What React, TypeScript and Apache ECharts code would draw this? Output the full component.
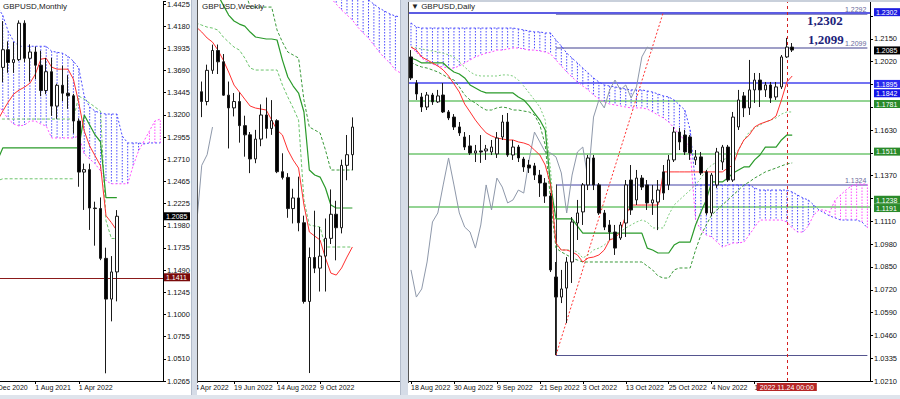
import React, { useEffect, useRef } from "react";
import * as echarts from "echarts";

const FONT = "'Liberation Sans Narrow','Arial Narrow','Liberation Sans',Arial,sans-serif";
const SERIF = "'Liberation Serif','Times New Roman',serif";

// ================= MONTHLY =================
const mDates = ["1 Dec 2020","1 Jan 2021","1 Feb 2021","1 Mar 2021","1 Apr 2021","1 May 2021","1 Jun 2021","1 Jul 2021","1 Aug 2021","1 Sep 2021","1 Oct 2021","1 Nov 2021","1 Dec 2021","1 Jan 2022","1 Feb 2022","1 Mar 2022","1 Apr 2022","1 May 2022","1 Jun 2022","1 Jul 2022","1 Aug 2022","1 Sep 2022","1 Oct 2022","1 Nov 2022","1 Dec 2022","1 Jan 2023","1 Feb 2023","1 Mar 2023","1 Apr 2023","1 May 2023","1 Jun 2023","1 Jul 2023"];
const mLabelIdx = [0, 8, 16];
const mOpen = [1.3325,1.3670,1.3730,1.3925,1.3784,1.3815,1.4218,1.3830,1.3900,1.3754,1.3474,1.3682,1.3302,1.3532,1.3445,1.3416,1.3137,1.2573,1.2600,1.2176,1.2170,1.1620,1.1170,1.1470];
const mHigh = [1.3704,1.3758,1.4241,1.4017,1.4009,1.4249,1.4250,1.3984,1.3958,1.3913,1.3834,1.3834,1.3549,1.3749,1.3644,1.3437,1.3167,1.2667,1.2666,1.2246,1.2293,1.1738,1.1645,1.2153];
const mLow = [1.3135,1.3520,1.3566,1.3670,1.3669,1.3800,1.3787,1.3572,1.3601,1.3412,1.3434,1.3194,1.3161,1.3358,1.3272,1.3000,1.2411,1.2155,1.1934,1.1760,1.1600,1.0350,1.0924,1.1145];
const mClose = [1.3670,1.3730,1.3925,1.3784,1.3815,1.4218,1.3830,1.3900,1.3754,1.3474,1.3682,1.3302,1.3532,1.3445,1.3416,1.3137,1.2573,1.2600,1.2176,1.2170,1.1620,1.1170,1.1470,1.2085];
const mTenkan = [1.3027,1.3137,1.3247,1.3346,1.3434,1.3479,1.3511,1.3555,1.3655,1.3820,1.3831,1.3732,1.3710,1.3710,1.3710,1.3600,1.3335,1.3027,1.2862,1.2752,1.2642,1.2092,1.2015,1.1927];
const mKijun = [1.2697,1.2697,1.2840,1.2840,1.2840,1.2840,1.2840,1.2840,1.2840,1.2840,1.2840,1.2840,1.2840,1.2840,1.2840,1.2840,1.2840,1.3203,1.3093,1.2983,1.2906,1.2290,1.2290,1.2290];
const mDashU = [1.3159,1.3159,1.3159,1.3159,1.3159,1.3159,1.3159,1.3159,1.3159,1.3159,1.3159,1.3159,1.3159,1.3159,1.3159,1.3159,1.3412,1.3379,1.3335,1.3291,1.3247,1.2037,1.1839,1.1839];
const mDashL = [1.2422,1.2477,1.2499,1.2499,1.2499,1.2499,1.2499,1.2499,1.2499,1.2499,1.2499,1.2499,1.2499,1.2499,1.2499,1.2499,null,null,null,null,null,null,null,null];
const mSpanA = [1.4403,1.4403,1.4304,1.4128,1.4018,1.3963,1.3963,1.3963,1.3963,1.3963,1.3963,1.3908,1.3897,1.3886,1.3853,1.3798,1.3721,1.3412,1.3291,1.3247,1.3225,1.3214,1.3214,1.3214,1.2972,1.2895,1.2895,1.2895,1.2884,1.2895,1.2895,1.2895];
const mSpanB = [1.3357,1.3324,1.3247,1.3159,1.3104,1.3082,1.3093,1.3137,1.3137,1.3104,1.3082,1.2950,1.2950,1.2950,1.2950,1.2950,1.2972,1.2774,1.2719,1.2664,1.2587,1.2477,1.2444,1.2444,1.2444,1.2444,1.2642,1.2807,1.2917,1.3027,1.3137,1.3159];
const mTicks = ["1.0265","1.0510","1.0755","1.1000","1.1245","1.1490","1.1735","1.1980","1.2225","1.2465","1.2710","1.2955","1.3200","1.3445","1.3690","1.3935","1.4180","1.4425"];
const mLevel = 1.1411;
const mLast = 1.2085;

// ================= WEEKLY =================
const wDates = ["24 Apr 2022","1 May 2022","8 May 2022","15 May 2022","22 May 2022","29 May 2022","5 Jun 2022","12 Jun 2022","19 Jun 2022","26 Jun 2022","3 Jul 2022","10 Jul 2022","17 Jul 2022","24 Jul 2022","31 Jul 2022","7 Aug 2022","14 Aug 2022","21 Aug 2022","28 Aug 2022","4 Sep 2022","11 Sep 2022","18 Sep 2022","25 Sep 2022","2 Oct 2022","9 Oct 2022","16 Oct 2022","23 Oct 2022","30 Oct 2022","6 Nov 2022","13 Nov 2022","20 Nov 2022","27 Nov 2022","4 Dec 2022","11 Dec 2022","18 Dec 2022","25 Dec 2022","1 Jan 2023","8 Jan 2023","15 Jan 2023","22 Jan 2023","29 Jan 2023","5 Feb 2023","12 Feb 2023"];
const wLabelIdx = [0, 8, 16, 24];
const wOpen = [1.2830,1.2570,1.2334,1.2265,1.2485,1.2625,1.2545,1.2310,1.2220,1.2265,1.2095,1.2030,1.1860,1.2000,1.2170,1.2075,1.2130,1.1770,1.1730,1.1510,1.1585,1.1410,1.0855,1.1165,1.1090,1.1175,1.1300,1.1470,1.1375,1.1815,1.1890];
const wHigh = [1.2860,1.2638,1.2406,1.2525,1.2666,1.2667,1.2600,1.2406,1.2325,1.2330,1.2165,1.2050,1.2065,1.2245,1.2293,1.2275,1.2140,1.1900,1.1760,1.1650,1.1735,1.1460,1.1235,1.1495,1.1380,1.1440,1.1645,1.1565,1.1855,1.2029,1.2153];
const wLow = [1.2410,1.2276,1.2155,1.2238,1.2460,1.2459,1.2305,1.1934,1.2160,1.1975,1.1876,1.1760,1.1830,1.1950,1.2005,1.2030,1.1760,1.1715,1.1445,1.1405,1.1350,1.0840,1.0350,1.1055,1.0925,1.0925,1.1260,1.1145,1.1335,1.1710,1.1780];
const wClose = [1.2570,1.2334,1.2265,1.2485,1.2625,1.2545,1.2310,1.2220,1.2265,1.2095,1.2030,1.1860,1.2000,1.2170,1.2075,1.2130,1.1770,1.1730,1.1510,1.1585,1.1410,1.0855,1.1165,1.1090,1.1175,1.1300,1.1470,1.1375,1.1815,1.1890,1.2085];
const wTenkan = [1.2811,1.2790,1.2755,1.2713,1.2684,1.2628,1.2557,1.2473,1.2381,1.2332,1.2282,1.2233,1.2219,1.2212,1.2205,1.2134,1.2064,1.2029,1.1923,1.1852,1.1796,1.1535,1.1345,1.1316,1.1288,1.1161,1.1055,1.1041,1.1091,1.1168,1.1239];
const wKijun = [1.3192,1.3157,1.3122,1.3086,1.3051,1.3016,1.2945,1.2875,1.2833,1.2811,1.2797,1.2755,1.2720,1.2713,1.2706,1.2706,1.2699,1.2557,1.2438,1.2374,1.2325,1.2191,1.1782,1.1747,1.1732,1.1655,1.1535,1.1514,1.1514,1.1514,1.1514];
const wDashU = [1.3051,1.3051,1.3051,1.3051,1.3051,1.3051,1.3051,1.3051,1.3051,1.3051,1.3051,1.2931,1.2931,1.2931,1.2931,1.2931,1.2769,1.2684,1.2614,1.2593,1.2572,1.2275,1.2085,1.2064,1.2043,1.1923,1.1782,1.1782,1.1782,1.1782,1.1782];
const wDashL = [1.2832,1.2818,1.2804,1.2790,1.2783,1.2769,1.2720,1.2684,1.2649,1.2628,1.2572,1.2501,1.2487,1.2487,1.2487,1.2487,1.2487,1.2381,1.2297,1.2219,1.2134,1.1570,1.1394,1.1387,1.1380,1.1239,1.1239,1.1239,1.1239,1.1239,1.1239];
const wSpanA = [null,null,null,null,null,null,null,null,null,null,null,null,null,null,null,null,null,null,null,null,null,null,null,null,null,null,1.3263,1.3206,1.3157,1.3108,1.3065,1.3023,1.2995,1.2981,1.2952,1.2924,1.2903,1.2882,1.2868,1.2861,1.2854,1.2854,1.2854];
const wSpanB = [null,null,null,null,null,null,null,null,null,null,null,null,null,null,null,null,null,null,null,null,null,null,null,null,null,null,1.2995,1.2952,1.2910,1.2875,1.2840,1.2790,1.2748,1.2713,1.2663,1.2614,1.2572,1.2536,1.2487,1.2466,1.2466,1.2466,1.2466];

// ================= DAILY =================
const dDates = ["18 Aug 2022","19 Aug 2022","22 Aug 2022","23 Aug 2022","24 Aug 2022","25 Aug 2022","26 Aug 2022","29 Aug 2022","30 Aug 2022","31 Aug 2022","1 Sep 2022","2 Sep 2022","5 Sep 2022","6 Sep 2022","7 Sep 2022","8 Sep 2022","9 Sep 2022","12 Sep 2022","13 Sep 2022","14 Sep 2022","15 Sep 2022","16 Sep 2022","19 Sep 2022","20 Sep 2022","21 Sep 2022","22 Sep 2022","23 Sep 2022","26 Sep 2022","27 Sep 2022","28 Sep 2022","29 Sep 2022","30 Sep 2022","3 Oct 2022","4 Oct 2022","5 Oct 2022","6 Oct 2022","7 Oct 2022","10 Oct 2022","11 Oct 2022","12 Oct 2022","13 Oct 2022","14 Oct 2022","17 Oct 2022","18 Oct 2022","19 Oct 2022","20 Oct 2022","21 Oct 2022","24 Oct 2022","25 Oct 2022","26 Oct 2022","27 Oct 2022","28 Oct 2022","31 Oct 2022","1 Nov 2022","2 Nov 2022","3 Nov 2022","4 Nov 2022","7 Nov 2022","8 Nov 2022","9 Nov 2022","10 Nov 2022","11 Nov 2022","14 Nov 2022","15 Nov 2022","16 Nov 2022","17 Nov 2022","18 Nov 2022","21 Nov 2022","22 Nov 2022","23 Nov 2022","24 Nov 2022","25 Nov 2022","28 Nov 2022","29 Nov 2022","30 Nov 2022","1 Dec 2022","2 Dec 2022","5 Dec 2022","6 Dec 2022","7 Dec 2022","8 Dec 2022","9 Dec 2022","12 Dec 2022","13 Dec 2022","14 Dec 2022","15 Dec 2022"];
const dLabelIdx = [0, 8, 16, 24, 32, 40, 48, 56, 64];
const dOpen = [1.2048,1.1900,1.1821,1.1764,1.1832,1.1793,1.1832,1.1736,1.1707,1.1651,1.1594,1.1543,1.1503,1.1515,1.1515,1.1509,1.1498,1.1594,1.1679,1.1492,1.1537,1.1469,1.1435,1.1430,1.1378,1.1333,1.1259,1.0800,1.0686,1.0737,1.0885,1.1106,1.1169,1.1322,1.1475,1.1322,1.1163,1.1095,1.1055,1.1021,1.1106,1.1350,1.1237,1.1361,1.1322,1.1220,1.1225,1.1396,1.1322,1.1464,1.1622,1.1605,1.1594,1.1464,1.1481,1.1396,1.1163,1.1322,1.1452,1.1537,1.1350,1.1651,1.1827,1.1759,1.1861,1.1917,1.1861,1.1889,1.1821,1.1878,1.2048,1.2104];
const dHigh = [1.2087,1.1917,1.1844,1.1849,1.1844,1.1861,1.1900,1.1747,1.1724,1.1679,1.1622,1.1605,1.1549,1.1605,1.1549,1.1577,1.1622,1.1719,1.1730,1.1577,1.1549,1.1481,1.1464,1.1447,1.1407,1.1361,1.1276,1.0885,1.0840,1.0913,1.1140,1.1237,1.1333,1.1492,1.1492,1.1333,1.1180,1.1123,1.1095,1.1112,1.1350,1.1435,1.1407,1.1378,1.1350,1.1322,1.1350,1.1435,1.1492,1.1651,1.1645,1.1634,1.1605,1.1520,1.1509,1.1407,1.1390,1.1532,1.1549,1.1549,1.1736,1.1861,1.1849,1.2031,1.1957,1.1957,1.1906,1.1906,1.1906,1.2059,1.2156,1.2127];
const dLow = [1.1917,1.1804,1.1736,1.1747,1.1776,1.1787,1.1730,1.1690,1.1634,1.1600,1.1520,1.1492,1.1452,1.1447,1.1464,1.1492,1.1475,1.1577,1.1481,1.1464,1.1452,1.1396,1.1390,1.1350,1.1254,1.1220,1.0828,1.0357,1.0652,1.0539,1.0766,1.1010,1.1095,1.1293,1.1293,1.1152,1.1066,1.1010,1.0925,1.1010,1.1027,1.1152,1.1208,1.1293,1.1180,1.1152,1.1066,1.1237,1.1293,1.1452,1.1520,1.1492,1.1464,1.1435,1.1378,1.1152,1.1146,1.1305,1.1407,1.1339,1.1339,1.1634,1.1707,1.1719,1.1787,1.1764,1.1821,1.1787,1.1804,1.1866,1.2042,1.2076];
const dClose = [1.1929,1.1838,1.1764,1.1832,1.1793,1.1827,1.1736,1.1702,1.1651,1.1617,1.1537,1.1503,1.1515,1.1509,1.1526,1.1537,1.1588,1.1679,1.1492,1.1537,1.1475,1.1424,1.1418,1.1378,1.1333,1.1259,1.0840,1.0686,1.0732,1.0885,1.1112,1.1163,1.1322,1.1475,1.1322,1.1163,1.1083,1.1055,1.0964,1.1095,1.1322,1.1180,1.1361,1.1310,1.1220,1.1237,1.1293,1.1276,1.1464,1.1622,1.1566,1.1509,1.1503,1.1481,1.1390,1.1163,1.1378,1.1509,1.1537,1.1350,1.1707,1.1804,1.1759,1.1861,1.1917,1.1861,1.1889,1.1815,1.1878,1.2048,1.2104,1.2087];
const dTenkan = [1.2104,1.2087,1.2048,1.2031,1.2014,1.1997,1.1974,1.1940,1.1895,1.1849,1.1781,1.1736,1.1690,1.1651,1.1617,1.1600,1.1588,1.1583,1.1577,1.1577,1.1566,1.1560,1.1549,1.1520,1.1492,1.1435,1.1322,1.0993,1.0953,1.0953,1.0942,1.0925,1.0885,1.0908,1.0913,1.0925,1.0953,1.1010,1.1021,1.1055,1.1152,1.1208,1.1208,1.1208,1.1208,1.1208,1.1208,1.1396,1.1396,1.1396,1.1396,1.1396,1.1396,1.1396,1.1396,1.1396,1.1396,1.1396,1.1396,1.1418,1.1435,1.1520,1.1577,1.1605,1.1651,1.1668,1.1679,1.1690,1.1713,1.1804,1.1906,1.1940];
const dKijun = [1.2042,1.2031,1.2014,1.2014,1.2014,1.2014,1.2014,1.1985,1.1963,1.1951,1.1929,1.1889,1.1872,1.1855,1.1844,1.1844,1.1844,1.1844,1.1844,1.1844,1.1821,1.1804,1.1770,1.1730,1.1690,1.1634,1.1322,1.1129,1.1129,1.1129,1.1129,1.1089,1.1049,1.1049,1.1049,1.1049,1.1049,1.1049,1.1049,1.1049,1.1049,1.1049,1.1049,1.1049,1.0964,1.0953,1.0936,1.0936,1.0936,1.0981,1.0998,1.0998,1.0998,1.1095,1.1169,1.1237,1.1339,1.1339,1.1339,1.1361,1.1390,1.1407,1.1424,1.1424,1.1464,1.1492,1.1537,1.1537,1.1537,1.1577,1.1605,1.1605];
const dDashU = [1.2104,1.2099,1.2093,1.2087,1.2082,1.2076,1.2070,1.2059,1.2048,1.2019,1.1991,1.1963,1.1946,1.1940,1.1940,1.1940,1.1940,1.1946,1.1946,1.1940,1.1917,1.1883,1.1844,1.1804,1.1764,1.1690,1.1407,1.0981,1.0953,1.0953,1.0953,1.0942,1.0908,1.0925,1.0953,1.0964,1.0981,1.1010,1.1038,1.1055,1.1078,1.1095,1.1112,1.1123,1.1112,1.1078,1.1078,1.1078,1.1152,1.1208,1.1237,1.1265,1.1293,1.1322,1.1361,1.1407,1.1435,1.1452,1.1464,1.1475,1.1492,1.1520,1.1577,1.1622,1.1645,1.1662,1.1679,1.1690,1.1702,1.1724,1.1736,1.1736];
const dDashL = [1.2019,1.2002,1.1991,1.1985,1.1974,1.1963,1.1946,1.1929,1.1917,1.1878,1.1832,1.1804,1.1787,1.1764,1.1747,1.1747,1.1759,1.1764,1.1759,1.1747,1.1747,1.1741,1.1736,1.1719,1.1662,1.1549,1.1237,1.0964,1.0942,1.0925,1.0908,1.0896,1.0885,1.0885,1.0885,1.0885,1.0885,1.0885,1.0885,1.0885,1.0885,1.0885,1.0885,1.0885,1.0862,1.0840,1.0806,1.0794,1.0794,1.0840,1.0851,1.0851,1.0851,1.0953,1.1038,1.1095,1.1152,1.1180,1.1208,1.1237,1.1265,1.1293,1.1322,1.1339,1.1361,1.1378,1.1396,1.1407,1.1418,1.1430,1.1441,1.1447];
const dSpanA = [1.2241,1.2218,1.2212,1.2212,1.2212,1.2212,1.2212,1.2212,1.2212,1.2212,1.2212,1.2212,1.2212,1.2212,1.2212,1.2212,1.2212,1.2212,1.2212,1.2212,1.2207,1.2201,1.2195,1.2190,1.2190,1.2184,1.2184,1.2144,1.2110,1.2070,1.2042,1.2014,1.1985,1.1957,1.1929,1.1906,1.1889,1.1883,1.1878,1.1872,1.1866,1.1861,1.1861,1.1861,1.1855,1.1849,1.1838,1.1827,1.1821,1.1804,1.1776,1.1747,1.1634,1.1322,1.1322,1.1322,1.1322,1.1322,1.1322,1.1322,1.1322,1.1322,1.1322,1.1322,1.1305,1.1293,1.1293,1.1293,1.1293,1.1293,1.1293,1.1282,1.1265,1.1248,1.1237,1.1208,1.1180,1.1163,1.1146,1.1135,1.1123,1.1123,1.1123,1.1123,1.1112,1.1078];
const dSpanB = [1.2104,1.2076,1.2042,1.2019,1.2008,1.1997,1.1991,1.1985,1.1985,1.1997,1.2014,1.2031,1.2048,1.2059,1.2070,1.2076,1.2087,1.2087,1.2093,1.2099,1.2099,1.2093,1.2087,1.2087,1.2082,1.2076,1.2065,1.2031,1.1997,1.1963,1.1934,1.1906,1.1883,1.1861,1.1832,1.1810,1.1793,1.1781,1.1776,1.1770,1.1764,1.1759,1.1759,1.1759,1.1753,1.1736,1.1719,1.1702,1.1679,1.1645,1.1605,1.1577,1.1520,1.1123,1.1066,1.1038,1.1027,1.0998,1.0970,1.0981,1.0993,1.0993,1.0998,1.1038,1.1083,1.1123,1.1123,1.1123,1.1123,1.1123,1.1112,1.1078,1.1055,1.1055,1.1089,1.1152,1.1180,1.1180,1.1169,1.1237,1.1265,1.1293,1.1316,1.1327,1.1327,1.1327];
// tick labels that stay visible (the others lie under the level boxes)
const dTicks = ["1.0210","1.0335","1.0460","1.0590","1.0720","1.0850","1.0980","1.1110","1.1370","1.1630","1.2020","1.2150"];
const dLevelsBlue = [1.2302, 1.1895, 1.1842];
const dLevelsGreen = [1.1781, 1.1511, 1.1238, 1.1191];
const dLevelsSwing = [1.2292, 1.2099, 1.1324, 1.0356];
const dLast = 1.2085;
const dSwingIdx = 27;
const dFanEnd = [47, 1.2302];
const dCursorIdx = 70;
const dCursorText = "2022.11.24 00:00";
const dNotes = ["1,2302", "1,2099"];

// ================= helpers =================
const CHIKOU_SHIFT = 26;
const shiftBack = (dates: string[], close: number[]) =>
  dates.map((_, i) => (i + CHIKOU_SHIFT < close.length ? close[i + CHIKOU_SHIFT] : null));

function nearestLabel(labels: string[]) {
  return (v: number) => {
    let best = "";
    let bd = Infinity;
    for (const s of labels) {
      const d = Math.abs(parseFloat(s) - v);
      if (d < bd) { bd = d; best = s; }
    }
    return bd < 0.002 ? best : "";
  };
}

function cloud(spanA: (number | null)[], spanB: (number | null)[]) {
  const data: number[][] = [];
  spanA.forEach((a, i) => {
    const b = spanB[i];
    if (a != null && b != null) data.push([i, a, b]);
  });
  return {
    type: "custom", silent: true, clip: true, z: 1, data,
    encode: { x: 0, y: [1, 2] },
    renderItem: (_p: any, api: any) => {
      const i = api.value(0), a = api.value(1), b = api.value(2);
      const p1 = api.coord([i, a]);
      const p2 = api.coord([i, b]);
      return {
        type: "line",
        shape: { x1: p1[0], y1: p1[1], x2: p2[0], y2: p2[1] },
        style: { stroke: a >= b ? "#4a4aff" : "#ff4cff", lineWidth: 1, lineDash: [1.5, 1.5] },
        silent: true,
      };
    },
  };
}

const ln = (data: any[], color: string, width = 1, type: any = "solid", z = 2) => ({
  type: "line", data, symbol: "none", showSymbol: false, silent: true, z, clip: true,
  connectNulls: false, lineStyle: { color, width, type }, emphasis: { disabled: true },
});

const candles = (o: number[], h: number[], l: number[], c: number[], markLine: any) => ({
  type: "candlestick", z: 3, silent: true, barWidth: 3,
  data: o.map((v, i) => [v, c[i], l[i], h[i]]),
  itemStyle: { color: "#ffffff", color0: "#000000", borderColor: "#1a1a1a", borderColor0: "#1a1a1a", borderWidth: 1 },
  markLine,
});

const xCat = (dates: string[], idx: number[]) => ({
  type: "category", data: dates, boundaryGap: true,
  axisLine: { show: true, lineStyle: { color: "#000", width: 1 } },
  axisTick: { show: true, alignWithLabel: true, length: 3, interval: (i: number) => idx.includes(i), lineStyle: { color: "#000" } },
  axisLabel: {
    show: true, interval: (i: number) => idx.includes(i), align: "left", margin: 3,
    fontSize: 7, fontFamily: FONT, color: "#111", hideOverlap: false, showMinLabel: true, showMaxLabel: true,
  },
  splitLine: { show: false },
});

const yVal = (min: number, max: number, interval: number | undefined, labels: string[] | null, show = true) => ({
  type: "value", position: "right", min, max, interval, show,
  axisLine: { show: true, lineStyle: { color: "#000" } },
  axisTick: { show: true, length: 3, lineStyle: { color: "#000" } },
  axisLabel: { formatter: labels ? nearestLabel(labels) : () => "", margin: 4, fontSize: 7.5, fontFamily: FONT, color: "#111" },
  splitLine: { show: false },
});

const title = (text: string, left: number) => ({
  text, left, top: 2, padding: 0,
  textStyle: { fontSize: 8, fontWeight: "normal", color: "#222", fontFamily: FONT },
});

const NO_LABEL = { show: false };

const hLine = (v: number, color: string, width: number) => ({
  yAxis: v, lineStyle: { color, width, type: "solid" }, label: NO_LABEL,
});

const segment = (from: number[], to: number[], color: string, width: number, type: any, text?: string) => [
  {
    coord: from,
    lineStyle: { color, width, type },
    label: text
      ? { show: true, position: "insideEndTop", formatter: text, color: "#6b6b9c", fontSize: 7, fontFamily: FONT, distance: 1 }
      : NO_LABEL,
  },
  { coord: to },
];

// price boxes on the right price scale: positioned through the chart's own y scale
type Box = { v: number; bg: string };
const mBoxes: Box[] = [
  { v: mLast, bg: "#000000" },
  { v: mLevel, bg: "#7a0a0a" },
];
const dBoxes: Box[] = [
  { v: dLevelsBlue[0], bg: "#1c1ce0" },
  { v: dLast, bg: "#000000" },
  { v: dLevelsBlue[1], bg: "#2a2af0" },
  { v: dLevelsBlue[2], bg: "#1414e6" },
  ...dLevelsGreen.map((v) => ({ v, bg: "#2a8a2a" })),
];

function boxGraphics(chart: any, boxes: Box[], xLeft: number) {
  return boxes.map((b, k) => {
    const y = chart.convertToPixel({ yAxisIndex: 0 }, b.v);
    return {
      type: "group", id: "box" + k, x: xLeft, y: y - 4, z: 100,
      children: [
        { type: "rect", shape: { x: 0, y: 0, width: 26, height: 8 }, style: { fill: b.bg } },
        { type: "text", x: 2, y: 4.3, style: { text: b.v.toFixed(4), fill: "#ffffff", font: `7px ${FONT}`, verticalAlign: "middle", align: "left" } },
      ],
    };
  });
}

// ================= options =================
function monthlyOption() {
  return {
    animation: false,
    title: title("GBPUSD,Monthly", 23),
    grid: { left: 9.2, right: 32, top: 0, bottom: 18 },
    xAxis: xCat(mDates, mLabelIdx),
    yAxis: yVal(1.0265, 1.4458, 0.0245, mTicks),
    series: [
      cloud(mSpanA, mSpanB),
      ln(mSpanA, "#4a4aff", 1, [2, 2]),
      ln(mSpanB, "#ff4cff", 1, [2, 2]),
      ln(mDashL, "#6cc46c", 1, [3, 2]),
      ln(mDashU, "#6cc46c", 1, [3, 2]),
      ln(mKijun, "#2a9a2a", 1.2),
      ln(mTenkan, "#ff3030", 1),
      candles(mOpen, mHigh, mLow, mClose, {
        symbol: ["none", "none"], silent: true, z: 1, animation: false,
        data: [hLine(mLevel, "#8b1a1a", 1)],
      }),
    ],
  };
}

function weeklyOption() {
  return {
    animation: false,
    title: title("GBPUSD,Weekly", 25),
    grid: { left: 11.3, right: 17.4, top: 0, bottom: 18 },
    xAxis: xCat(wDates, wLabelIdx),
    yAxis: yVal(1.0294, 1.2981, undefined, null, false),
    series: [
      cloud(wSpanA, wSpanB),
      ln(wSpanA, "#4a4aff", 1, [2, 2]),
      ln(wSpanB, "#ff4cff", 1, [2, 2]),
      ln(shiftBack(wDates, wClose), "#8e98aa", 1),
      ln(wDashL, "#6cc46c", 1, [3, 2]),
      ln(wDashU, "#3a9a3a", 1, [3, 2]),
      ln(wKijun, "#2a9a2a", 1.2),
      ln(wTenkan, "#ff3030", 1),
      candles(wOpen, wHigh, wLow, wClose, undefined),
    ],
  };
}

function dailyNotes() {
  return [
    { type: "text", id: "note0", left: 407, top: 14, z: 10, style: { text: dNotes[0], fill: "#1c237a", font: `bold 13px ${SERIF}` } },
    { type: "text", id: "note1", left: 408, top: 33, z: 10, style: { text: dNotes[1], fill: "#1c237a", font: `bold 13px ${SERIF}` } },
  ];
}

function dailyOption() {
  const blueLines = [
    hLine(dLevelsBlue[0], "#2626d9", 1.5),
    hLine(dLevelsBlue[1], "#7373f2", 2),
    hLine(dLevelsBlue[2], "#2a2acf", 1.5),
  ];
  const greenLines = dLevelsGreen.map((v) => hLine(v, "#94d494", 2));
  const endIdx = dSpanA.length - 1;
  const swing = [
    segment([dSwingIdx, dLevelsSwing[0]], [endIdx, dLevelsSwing[0]], "#8c8cc0", 1, "solid", dLevelsSwing[0].toFixed(4)),
    segment([dSwingIdx, dLevelsSwing[1]], [endIdx, dLevelsSwing[1]], "#7f7fb5", 1.5, "solid", dLevelsSwing[1].toFixed(4)),
    segment([dSwingIdx, dLevelsSwing[2]], [endIdx, dLevelsSwing[2]], "#a0a0d2", 2, "solid", dLevelsSwing[2].toFixed(4)),
    segment([dSwingIdx, dLevelsSwing[3]], [endIdx, dLevelsSwing[3]], "#55558f", 1, "solid"),
    segment([dSwingIdx, dLevelsSwing[2]], [dSwingIdx, dLevelsSwing[3]], "#333333", 1, "solid"),
    segment([dSwingIdx, dLevelsSwing[3]], dFanEnd, "#ff3030", 1, [2, 2]),
  ];
  const cursor = {
    xAxis: dDates[dCursorIdx],
    lineStyle: { color: "#d42020", width: 1, type: [3, 3] },
    label: { show: true, position: "start", formatter: dCursorText, backgroundColor: "#b52626", color: "#fff", fontSize: 7, fontFamily: FONT, padding: [1, 3, 0, 3], distance: 2 },
  };
  return {
    animation: false,
    title: title("\u25BC GBPUSD,Daily", 11),
    grid: { left: 8.3, right: 27, top: 0, bottom: 18 },
    xAxis: xCat(dDates, dLabelIdx),
    yAxis: yVal(1.0210, 1.2371, 0.0129375, dTicks),
    graphic: dailyNotes(),
    series: [
      cloud(dSpanA, dSpanB),
      ln(dSpanA, "#4a4aff", 1, [2, 2]),
      ln(dSpanB, "#ff4cff", 1, [2, 2]),
      ln(shiftBack(dDates, dClose), "#8e98aa", 1),
      ln(dDashU, "#7ccc7c", 1, [2, 2]),
      ln(dDashL, "#3a9a3a", 1, [3, 2]),
      ln(dKijun, "#2a9a2a", 1.2),
      ln(dTenkan, "#ff3030", 1),
      candles(dOpen, dHigh, dLow, dClose, {
        symbol: ["none", "none"], silent: true, z: 1, animation: false,
        data: [...blueLines, ...greenLines, ...swing, cursor],
      }),
    ],
  };
}

export default function App() {
  const mRef = useRef<HTMLDivElement>(null);
  const wRef = useRef<HTMLDivElement>(null);
  const dRef = useRef<HTMLDivElement>(null);

  useEffect(() => {
    const specs: { el: HTMLDivElement | null; option: any; boxes: Box[]; boxX: number; extra: any[] }[] = [
      { el: mRef.current, option: monthlyOption(), boxes: mBoxes, boxX: 184, extra: [] },
      { el: wRef.current, option: weeklyOption(), boxes: [], boxX: 0, extra: [] },
      { el: dRef.current, option: dailyOption(), boxes: dBoxes, boxX: 474, extra: dailyNotes() },
    ];
    const charts = specs.map((s) => {
      const c = echarts.init(s.el as HTMLDivElement, null, { renderer: "svg" });
      c.setOption(s.option);
      if (s.boxes.length) {
        c.setOption({ graphic: [...s.extra, ...boxGraphics(c, s.boxes, s.boxX)] });
      }
      return c;
    });
    return () => charts.forEach((c) => c.dispose());
  }, []);

  const abs = (l: number, t: number, w: number, h: number, extra: any = {}) => ({
    position: "absolute" as const, left: l, top: t, width: w, height: h, ...extra,
  });

  return (
    <div style={{ position: "fixed", left: 0, top: 0, width: 900, height: 399, background: "#fff", overflow: "hidden" }}>
      <div style={abs(0, 0, 191, 399, { overflow: "hidden" })}>
        <div ref={mRef} style={abs(-20, 0, 215, 399)} />
      </div>
      <div style={abs(197, 0, 203, 399, { overflow: "hidden" })}>
        <div ref={wRef} style={abs(-20, 0, 260, 399)} />
      </div>
      <div style={abs(400, 0, 500, 399, { overflow: "hidden" })}>
        <div ref={dRef} style={abs(0, 0, 500, 399)} />
      </div>
      <div style={abs(191, 0, 6, 399, { background: "#d5dce7", borderLeft: "1px solid #b3bccb", boxSizing: "border-box" })} />
      <div style={abs(197, 0, 1, 383, { background: "#555" })} />
      <div style={abs(400, 0, 8, 399, { background: "#d5dce7", borderLeft: "1px solid #b3bccb", boxSizing: "border-box" })} />
      <div style={abs(408, 0, 1, 383, { background: "#555" })} />
      <div style={abs(408, 0, 492, 2, { background: "#c9d0db" })} />
      <div style={abs(0, 395, 900, 4, { background: "#dfe4ec" })} />
    </div>
  );
}
